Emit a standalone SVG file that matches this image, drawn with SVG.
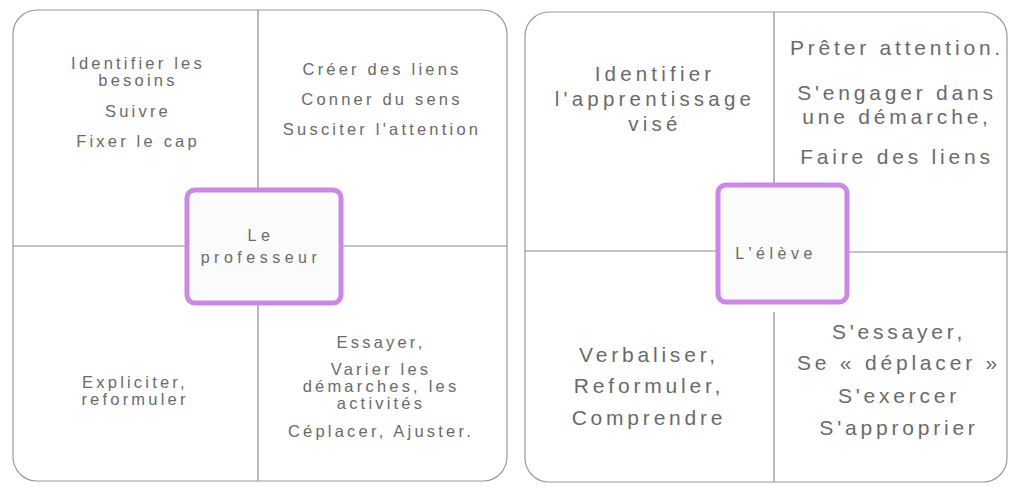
<svg xmlns="http://www.w3.org/2000/svg" width="1012" height="487" viewBox="0 0 1012 487">
<style>
.panel{fill:none;stroke:#9a9a9a;stroke-width:1.2}
.ln{stroke:#8a8a8a;stroke-width:1.2;fill:none}
.ctr{fill:#fbfbfb;stroke:#cc88e6;stroke-width:5}
.t{font-family:"Liberation Sans",Arial,sans-serif;fill:#6a6a6a;text-anchor:middle}
.s1{font-size:16.5px;letter-spacing:3.2px}
.s2{font-size:20.5px;letter-spacing:4.2px}
.s3{font-size:21px;letter-spacing:3.8px}
.c1{font-size:16px;letter-spacing:4.5px}
</style>
<rect width="1012" height="487" fill="#ffffff"/>
<g id="panel-professeur">
<rect class="panel" x="13" y="10" width="494" height="471" rx="24"/>
</g>
<g id="panel-eleve">
<rect class="panel" x="525" y="12" width="482" height="470" rx="24"/>
</g>
<g id="connectors">
<line class="ln" x1="258" y1="10" x2="258" y2="188"/>
<line class="ln" x1="258" y1="305" x2="258" y2="481"/>
<line class="ln" x1="13" y1="246" x2="186" y2="246"/>
<line class="ln" x1="341" y1="246" x2="507" y2="246"/>
<line class="ln" x1="774" y1="12" x2="774" y2="184"/>
<line class="ln" x1="774" y1="312" x2="774" y2="482"/>
<line class="ln" x1="525" y1="251" x2="717" y2="251"/>
<line class="ln" x1="848" y1="252" x2="1007" y2="252"/>
</g>
<g id="node-professeur">
<rect class="ctr" x="187" y="190" width="154" height="113" rx="8"/>
<text class="t c1" x="261" y="241">Le</text>
<text class="t c1" x="261" y="263">professeur</text>
</g>
<g id="node-eleve">
<rect class="ctr" x="718" y="185" width="129" height="117" rx="8"/>
<text class="t c1" x="776" y="259">L'élève</text>
</g>
<g id="q-prof-tl">
<text class="t s1" x="138" y="69">Identifier les</text>
<text class="t s1" x="138" y="86">besoins</text>
<text class="t s1" x="138" y="117">Suivre</text>
<text class="t s1" x="138" y="147">Fixer le cap</text>
</g>
<g id="q-prof-tr">
<text class="t s1" x="382" y="75">Créer des liens</text>
<text class="t s1" x="382" y="105">Conner du sens</text>
<text class="t s1" x="382" y="135">Susciter l'attention</text>
</g>
<g id="q-prof-bl">
<text class="t s1" x="135" y="388">Expliciter,</text>
<text class="t s1" x="135" y="405">reformuler</text>
</g>
<g id="q-prof-br">
<text class="t s1" x="381" y="348">Essayer,</text>
<text class="t s1" x="381" y="375">Varier les</text>
<text class="t s1" x="381" y="392">démarches, les</text>
<text class="t s1" x="381" y="409">activités</text>
<text class="t s1" x="381" y="437">Céplacer, Ajuster.</text>
</g>
<g id="q-eleve-tl">
<text class="t s2" x="655" y="81">Identifier</text>
<text class="t s2" x="655" y="106">l'apprentissage</text>
<text class="t s2" x="655" y="131">visé</text>
</g>
<g id="q-eleve-tr">
<text class="t s3" x="897" y="55">Prêter attention.</text>
<text class="t s3" x="897" y="100">S'engager dans</text>
<text class="t s3" x="897" y="124">une démarche,</text>
<text class="t s3" x="897" y="164">Faire des liens</text>
</g>
<g id="q-eleve-bl">
<text class="t s3" x="649" y="362">Verbaliser,</text>
<text class="t s3" x="649" y="393">Reformuler,</text>
<text class="t s3" x="649" y="425">Comprendre</text>
</g>
<g id="q-eleve-br">
<text class="t s3" x="899" y="339">S'essayer,</text>
<text class="t s3" x="899" y="370">Se « déplacer »</text>
<text class="t s3" x="899" y="403">S'exercer</text>
<text class="t s3" x="899" y="435">S'approprier</text>
</g>
</svg>
